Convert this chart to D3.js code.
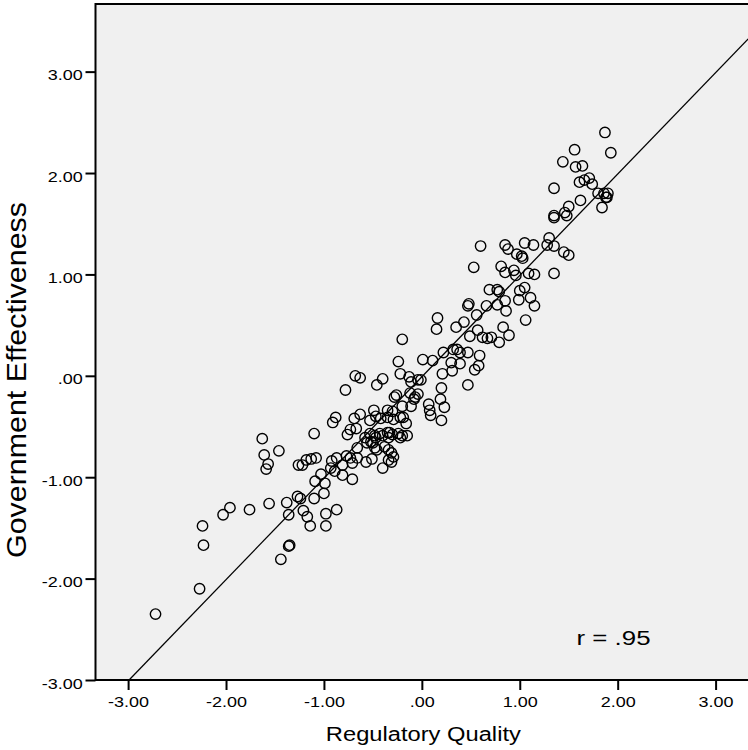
<!DOCTYPE html>
<html>
<head>
<meta charset="utf-8">
<script src="https://cdn.jsdelivr.net/npm/d3@7"></script>
<style>
  html, body { margin: 0; padding: 0; background: #ffffff; }
  svg { display: block; }
  text { font-family: "Liberation Sans", Arial, sans-serif; fill: #000; }
</style>
</head>
<body>
<svg id="chart" width="748" height="750"></svg>
<script>
// Country scores: Regulatory Quality (x) vs Government Effectiveness (y)
const regulatoryQuality = [
  -2.72, -2.27, -2.23, -2.24, -2.03, -1.96, -1.76, -1.56, -1.63, -1.61,
  -1.57, -1.59, -1.46, -1.38, -1.36, -1.36, -1.35, -1.44, -1.26, -1.27,
  -1.24, -1.22, -1.18, -1.13, -1.08, -1.10, -1.10, -1.21, -1.17, -1.14,
  -0.98, -0.87, -0.98, -1.03, -0.99, -1.09, -1.00, -0.91, -0.88, -0.92,
  -0.87, -0.89, -0.81, -0.93, -0.81, -0.78, -0.68, -0.63, -0.69, -0.63,
  -0.73, -0.76, -0.67, -0.71, -0.77, -0.73, -0.66, -0.71, -0.66, -0.57,
  -0.51, -0.58, -0.53, -0.50, -0.48, -0.43, -0.52, -0.56, -0.48, -0.46,
  -0.53, -0.47, -0.49, -0.46, -0.40, -0.42, -0.47, -0.40, -0.38, -0.34,
  -0.31, -0.29, -0.34, -0.31, -0.35, -0.34, -0.40, -0.33, -0.30, -0.24,
  -0.22, -0.20, -0.15, -0.35, -0.30, -0.35, -0.29, -0.22, -0.16, -0.19,
  -0.28, -0.26, -0.20, -0.11, -0.08, -0.12, -0.07, -0.04, -0.20, -0.24,
  -0.22, -0.13, -0.04, -0.01, -0.11, 0.01, 0.11, 0.07, 0.08, 0.09,
  0.20, 0.20, 0.19, 0.23, 0.22, 0.32, 0.36, 0.39, 0.30, 0.39,
  0.31, 0.21, 0.16, 0.15, 0.35, 0.43, 0.47, 0.47, 0.49, 0.57,
  0.56, 0.48, 0.47, 0.54, 0.58, 0.59, 0.62, 0.67, 0.71, 0.79,
  0.66, 0.77, 0.69, 0.77, 0.79, 0.53, 0.60, 0.81, 0.85, 0.85,
  0.88, 0.94, 0.96, 0.97, 1.02, 1.03, 1.05, 1.14, 1.09, 1.15,
  0.85, 0.86, 0.83, 0.89, 1.00, 1.05, 0.99, 1.11, 1.15, 1.06,
  1.30, 1.28, 1.35, 1.45, 1.50, 1.35, 1.35, 1.35, 1.46, 1.50,
  1.48, 1.35, 1.62, 1.87, 1.93, 1.56, 1.44, 1.57, 1.64, 1.61,
  1.66, 1.71, 1.74, 1.80, 1.86, 1.90, 1.88, 1.89, 1.84
];
const governmentEffectiveness = [
  -2.35, -2.10, -1.67, -1.48, -1.37, -1.30, -1.32, -1.26, -0.62, -0.78,
  -0.87, -0.92, -0.74, -1.25, -1.37, -1.68, -1.67, -1.81, -0.88, -1.19,
  -1.21, -0.88, -0.83, -0.82, -0.81, -0.57, -1.21, -1.33, -1.39, -1.48,
  -1.36, -1.32, -1.48, -0.97, -1.06, -1.04, -1.16, -0.46, -0.41, -0.84,
  -0.81, -0.94, -0.98, -0.91, -0.88, -0.14, 0.00, -0.02, -0.42, -0.38,
  -0.53, -0.58, -0.52, -1.02, -0.79, -0.81, -0.81, -0.86, -0.71, -0.85,
  -0.82, -0.61, -0.57, -0.66, -0.59, -0.57, -0.65, -0.66, -0.71, -0.73,
  -0.44, -0.40, -0.34, -0.09, -0.03, -0.42, -0.61, -0.91, -0.70, -0.73,
  -0.76, -0.80, -0.83, -0.85, -0.56, -0.61, -0.59, -0.56, -0.58, -0.57,
  -0.61, -0.59, -0.59, -0.34, -0.35, -0.41, -0.43, -0.41, -0.47, -0.41,
  -0.21, -0.19, -0.30, -0.30, -0.23, -0.17, -0.21, -0.18, 0.36, 0.14,
  0.02, -0.01, -0.04, -0.04, -0.06, 0.16, 0.15, -0.28, -0.34, -0.39,
  -0.44, -0.12, -0.23, -0.31, 0.23, 0.26, 0.26, 0.23, 0.13, 0.12,
  0.05, 0.02, 0.57, 0.46, 0.48, 0.53, 0.23, -0.09, 0.39, 0.45,
  0.60, 0.71, 0.69, 0.06, 0.10, 0.20, 0.38, 0.37, 0.38, 0.33,
  0.69, 0.70, 0.85, 0.85, 0.83, 1.07, 1.28, 1.08, 1.02, 1.29,
  1.25, 1.04, 0.99, 1.20, 1.18, 1.16, 1.31, 1.29, 1.01, 1.00,
  0.74, 0.64, 0.48, 0.40, 0.84, 0.87, 0.75, 0.77, 0.69, 0.55,
  1.36, 1.29, 1.28, 1.22, 1.19, 1.01, 1.58, 1.56, 1.61, 1.67,
  1.58, 1.85, 1.73, 2.40, 2.20, 2.23, 2.11, 2.06, 2.07, 1.91,
  1.93, 1.95, 1.89, 1.80, 1.80, 1.80, 1.76, 1.76, 1.66
];

// Axis ticks shared by both axes
const tickValues = [-3, -2, -1, 0, 1, 2, 3];
const tickLabels = ["-3.00", "-2.00", "-1.00", ".00", "1.00", "2.00", "3.00"];

// Axis ranges
const xDomain = [-3.333, 3.333];
const yDomain = [-3.0, 3.667];

// Linear fit line and correlation annotation
const fitIntercept = -0.01;
const fitSlope = 1.0;
const correlationText = "r = .95";
const correlationAt = [1.58, -2.65];

const xTitle = "Regulatory Quality";
const yTitle = "Government Effectiveness";

// ---- layout ----
const plot = { left: 95.5, right: 748.2, top: 4, bottom: 680 };

const svg = d3.select("#chart");

const x = d3.scaleLinear().domain(xDomain).range([plot.left, plot.right]);
const y = d3.scaleLinear().domain(yDomain).range([plot.bottom, plot.top]);

// widen text horizontally (the chart's type is set wide)
function widen(sel, factor) {
  sel.each(function () {
    const n = this.getComputedTextLength();
    this.setAttribute("textLength", (n * factor).toFixed(1));
    this.setAttribute("lengthAdjust", "spacingAndGlyphs");
  });
}
function fitTo(sel, len) {
  sel.attr("textLength", len).attr("lengthAdjust", "spacingAndGlyphs");
}

// plot background
svg.append("rect")
  .attr("x", plot.left).attr("y", plot.top)
  .attr("width", plot.right - plot.left + 2)
  .attr("height", plot.bottom - plot.top)
  .attr("fill", "#f0f0f0");

svg.append("clipPath").attr("id", "plot-clip")
  .append("rect")
  .attr("x", plot.left).attr("y", plot.top)
  .attr("width", plot.right - plot.left)
  .attr("height", plot.bottom - plot.top);

// regression line
const fitX0 = (yDomain[0] - fitIntercept) / fitSlope;
const fitPts = [fitX0, xDomain[1]].map(v => [v, fitIntercept + fitSlope * v]);
svg.append("path")
  .attr("clip-path", "url(#plot-clip)")
  .attr("d", d3.line().x(d => x(d[0])).y(d => y(d[1]))(fitPts))
  .attr("fill", "none")
  .attr("stroke", "#000")
  .attr("stroke-width", 1.3);

// points
const points = regulatoryQuality.map((v, i) => [v, governmentEffectiveness[i]]);
svg.append("g")
  .selectAll("circle")
  .data(points)
  .join("circle")
  .attr("cx", d => x(d[0]))
  .attr("cy", d => y(d[1]))
  .attr("r", 5.2)
  .attr("fill", "none")
  .attr("stroke", "#000")
  .attr("stroke-width", 1.4);

// frame (left, top, bottom)
svg.append("path")
  .attr("d", `M${plot.right + 2},${plot.top}H${plot.left}V${plot.bottom}H${plot.right + 2}`)
  .attr("fill", "none")
  .attr("stroke", "#000")
  .attr("stroke-width", 2);

// axes
const fmt = d => tickLabels[tickValues.indexOf(d)];

const xAxis = svg.append("g")
  .attr("transform", `translate(0,${plot.bottom})`)
  .call(d3.axisBottom(x).tickValues(tickValues).tickFormat(fmt).tickSize(10).tickSizeOuter(0).tickPadding(6.5));

const yAxis = svg.append("g")
  .attr("transform", `translate(${plot.left},0)`)
  .call(d3.axisLeft(y).tickValues(tickValues).tickFormat(fmt).tickSize(10).tickSizeOuter(0).tickPadding(2.8));

[xAxis, yAxis].forEach(g => {
  g.select(".domain").remove();
  g.selectAll(".tick line").attr("stroke", "#000").attr("stroke-width", 2);
  g.selectAll(".tick text")
    .attr("font-family", "Liberation Sans, Arial, sans-serif")
    .attr("font-size", 15)
    .attr("fill", "#000");
  widen(g.selectAll(".tick text"), 1.2);
});
yAxis.selectAll(".tick text").attr("dy", "0.54em");

// axis titles
fitTo(svg.append("text")
  .attr("x", x(0) + 1.5)
  .attr("y", 741)
  .attr("text-anchor", "middle")
  .attr("font-size", 20)
  .text(xTitle), 195);

fitTo(svg.append("text")
  .attr("transform", `translate(26,380) rotate(-90)`)
  .attr("text-anchor", "middle")
  .attr("font-size", 28)
  .text(yTitle), 356);

// correlation annotation
fitTo(svg.append("text")
  .attr("x", x(correlationAt[0]))
  .attr("y", 645)
  .attr("font-size", 19.5)
  .text(correlationText), 74);
</script>
</body>
</html>
